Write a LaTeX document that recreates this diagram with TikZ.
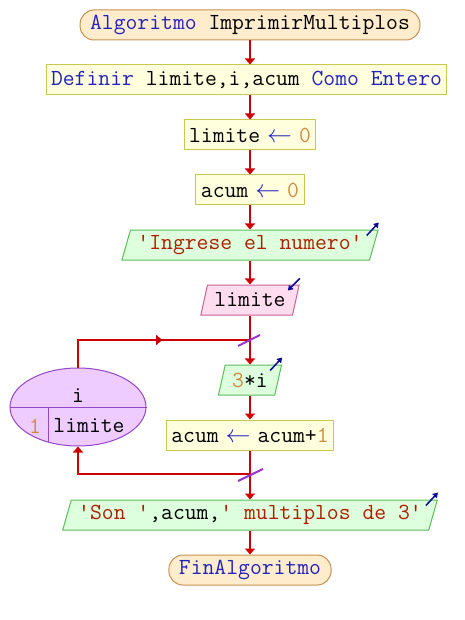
\documentclass[tikz,border=0pt]{standalone}
\usepackage{tikz}
\usetikzlibrary{shapes.geometric,arrows.meta,decorations.markings}

\definecolor{rojo}{RGB}{204,0,0}
\definecolor{violeta}{RGB}{150,50,205}
\definecolor{azulicono}{RGB}{10,10,150}
\definecolor{kwcolor}{RGB}{34,34,190}
\definecolor{cadcolor}{RGB}{175,30,0}
\definecolor{numcolor}{RGB}{205,140,70}
\definecolor{termfill}{RGB}{255,236,204}
\definecolor{termline}{RGB}{200,145,80}
\definecolor{procfill}{RGB}{255,255,221}
\definecolor{procline}{RGB}{200,200,80}
\definecolor{salfill}{RGB}{221,255,221}
\definecolor{salline}{RGB}{90,190,90}
\definecolor{entfill}{RGB}{255,221,238}
\definecolor{entline}{RGB}{200,100,150}
\definecolor{ciclofill}{RGB}{238,204,255}
\definecolor{cicloline}{RGB}{150,70,200}

\newcommand{\pal}[1]{\textcolor{kwcolor}{#1}}
\newcommand{\cad}[1]{\textcolor{cadcolor}{#1}}
\newcommand{\num}[1]{\textcolor{numcolor}{#1}}
\newcommand{\asig}{\hspace{7pt}\textcolor{kwcolor}{$\leftarrow$}\hspace{7pt}}

\tikzset{
  base/.style={font=\fontsize{23}{25}\selectfont\ttfamily, minimum height=30pt, inner ysep=2pt},
  caja/.style={base, line width=1pt},
  term/.style={caja, draw=termline, fill=termfill, rounded corners=14pt, inner xsep=10pt},
  proc/.style={caja, draw=procline, fill=procfill, inner xsep=5pt},
  salida/.style={caja, trapezium, trapezium left angle=70, trapezium right angle=110,
    trapezium stretches=true, draw=salline, fill=salfill, inner xsep=7pt},
  entrada/.style={salida, draw=entline, fill=entfill},
  flecha/.style={draw=rojo, line width=2pt, -{Triangle[width=10pt,length=6pt]}},
  linea/.style={draw=rojo, line width=2pt},
  marca/.style={draw=violeta, line width=2pt},
  icono/.style={draw=azulicono, line width=1.5pt, -{Triangle[width=6pt,length=5pt]}},
}

\begin{document}
\begin{tikzpicture}[x=1pt, y=-1pt]
  \useasboundingbox (0,0) rectangle (464,620);

  % bloques principales
  \node[term] (start) at (250,25) {\pal{Algoritmo} ImprimirMultiplos};
  \node[proc] (def) at (246.5,80) {\pal{Definir} limite,i,acum \pal{Como Entero}};
  \node[proc] (lim) at (250,135) {limite\asig\num{0}};
  \node[proc] (acu) at (250,190) {acum\asig\num{0}};
  \node[salida] (msg) at (250,245) {\cad{'Ingrese el numero'}};
  \node[entrada] (leer) at (250,300) {limite};
  \node[salida] (tres) at (250,380) {\num{3}*i};
  \node[proc] (suma) at (250,435) {acum\asig acum+\num{1}};
  \node[salida] (res) at (250,515) {\cad{'Son '},acum,\cad{' multiplos de 3'}};
  \node[term] (fin) at (250,570) {\pal{FinAlgoritmo}};

  % ciclo para
  \node[ellipse, draw=cicloline, fill=ciclofill, minimum width=136pt, minimum height=78pt,
    line width=1pt] (ciclo) at (78,407) {};
  \draw[cicloline, line width=1pt] (ciclo.west) -- (ciclo.east);
  \draw[cicloline, line width=1pt] (48,407) -- (48,442);
  \node[base, minimum height=0pt] (var) at (78,396) {i};
  \node[base, minimum height=0pt] (ini) at (35,426) {\num{1}};
  \node[base, minimum height=0pt] (tope) at (89,426) {limite};

  \coordinate (entra) at (250,340);
  \coordinate (sale) at (250,474);

  % conectores
  \foreach \a/\b in {start/def, def/lim, lim/acu, acu/msg, msg/leer, leer/tres, tres/suma, suma/res, res/fin}
    \draw[flecha] (\a.south -| entra) -- (\b.north -| entra);

  \draw[linea, postaction={decorate}, decoration={markings,
    mark=at position 0.56 with {\arrow{Triangle[width=10pt,length=6pt]}}}]
    (ciclo.north) |- (entra);
  \draw[flecha] (sale) -| (ciclo.south);

  % marcas del ciclo
  \draw[marca] (entra) ++(-12,6) -- ++(22,-11);
  \draw[marca] (sale) ++(-12,7) -- ++(25,-12);

  % iconos de entrada/salida
  \foreach \n in {msg, tres, res}
    \draw[icono] (\n.top right corner) ++(-12,6) -- ++(12,-13);
  \draw[icono] (leer.top right corner) ++(0,-6) -- ++(-12,12);
\end{tikzpicture}
\end{document}
